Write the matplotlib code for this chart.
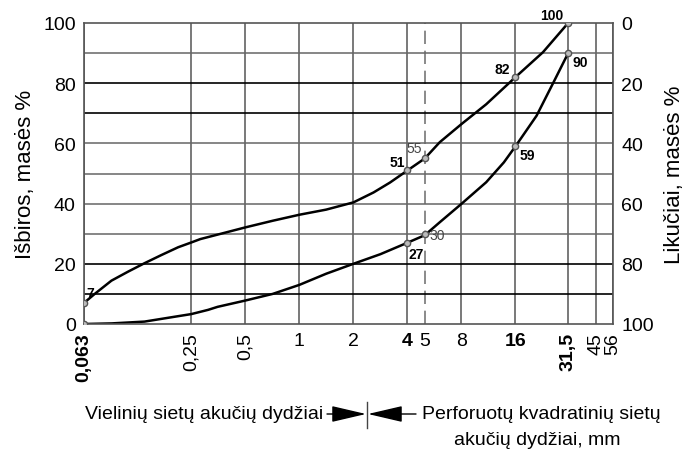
import matplotlib.pyplot as plt
import matplotlib as mpl

mpl.rcParams['font.family'] = ['Liberation Sans Narrow', 'Liberation Sans', 'DejaVu Sans']

# sieve sizes (mm) and grading curves
sieves = [0.063, 0.25, 0.5, 1, 2, 4, 5, 8, 16, 31.5, 45, 56]
sieve_labels = ['0,063', '0,25', '0,5', '1', '2', '4', '5', '8', '16', '31,5', '45', '56']

upper_x = [0.063, 0.0723, 0.0896, 0.111, 0.137, 0.17, 0.211, 0.25, 0.28, 0.35, 0.5, 0.71, 1,
           1.41, 2, 2.59, 3.2, 4, 5, 6.06, 8, 11.0, 16, 22.8, 31.5]
upper_y = [7, 10, 14.4, 17.4, 20.2, 22.9, 25.5, 27.1, 28.2, 29.7, 32.1, 34.3, 36.3,
           38, 40.4, 43.7, 47, 51, 55, 60.4, 66.4, 73, 82, 90.3, 100]

lower_x = [0.063, 0.09, 0.137, 0.211, 0.25, 0.31, 0.35, 0.5, 0.71, 1, 1.41, 2, 2.83,
           4, 5, 6.06, 8, 11.0, 13.8, 16, 21.0, 26.1, 31.5]
lower_y = [0, 0.2, 0.8, 2.6, 3.3, 4.7, 5.7, 7.8, 10, 13, 16.7, 20, 23.2,
           27, 29.5, 33.8, 39.9, 47.1, 53.7, 59, 69.2, 80.3, 90]

# marked points and their labels
pts_x = [0.063, 0.063, 4, 5, 4, 5, 16, 16, 31.5, 31.5]
pts_y = [7, 0, 51, 55, 27, 30, 82, 59, 100, 90]

fig = plt.figure(figsize=(6.88, 4.52), dpi=100)
ax = fig.add_axes([84 / 688, 1 - 325 / 452, 529 / 688, 301 / 452])
ax.set_xscale('log')
ax.set_xlim(0.063, 56)
ax.set_ylim(0, 100)

grid_c = '#555555'
for s in sieves:
    if s == 5:
        ax.axvline(s, color='#777777', lw=1.2, ls=(0, (8, 4)))
    else:
        ax.axvline(s, color=grid_c, lw=1.1)
for v in range(10, 100, 10):
    if v in (10, 20, 70, 80):
        ax.axhline(v, color='black', lw=1.2)
    else:
        ax.axhline(v, color='#666666', lw=1.1)
for sp in ax.spines.values():
    sp.set_color(grid_c)
    sp.set_linewidth(1.2)

ax.plot(upper_x, upper_y, color='black', lw=1.8, solid_joinstyle='round')
ax.plot(lower_x, lower_y, color='black', lw=1.8, solid_joinstyle='round')
ax.plot(pts_x, pts_y, 'o', ms=4.5, mfc='#bbbbbb', mec='#555555', mew=1, zorder=5)

b = dict(fontsize=10, fontweight='bold')
n = dict(fontsize=10, color='#444444')
ax.annotate('7', (0.063, 7), xytext=(2, 4), textcoords='offset points', **b)
ax.annotate('51', (4, 51), xytext=(-13, 3), textcoords='offset points', **b)
ax.annotate('55', (5, 55), xytext=(-13, 5), textcoords='offset points', **n)
ax.annotate('27', (4, 27), xytext=(1, -11), textcoords='offset points', **b)
ax.annotate('30', (5, 30), xytext=(3, -4), textcoords='offset points', **n)
ax.annotate('82', (16, 82), xytext=(-15, 3), textcoords='offset points', **b)
ax.annotate('59', (16, 59), xytext=(3, -9), textcoords='offset points', **b)
ax.annotate('100', (31.5, 100), xytext=(-20, 3), textcoords='offset points', **b)
ax.annotate('90', (31.5, 90), xytext=(3, -9), textcoords='offset points', **b)

ax.set_xticks(sieves)
ax.set_xticklabels(sieve_labels)
ax.minorticks_off()
ax.tick_params(axis='both', length=0, labelsize=14, pad=6)
for lab, txt in zip(ax.get_xticklabels(), sieve_labels):
    if txt in ('0,063', '0,25', '0,5', '31,5', '45', '56'):
        lab.set_rotation(90)
    if txt in ('0,063', '4', '16', '31,5'):
        lab.set_fontweight('bold')

ax.set_yticks(range(0, 101, 20))
ax.set_ylabel('Išbiros, masės %', fontsize=16, labelpad=5)

ax2 = ax.twinx()
ax2.set_ylim(100, 0)
ax2.set_yticks(range(0, 101, 20))
ax2.tick_params(length=0, labelsize=14, pad=6)
for sp in ax2.spines.values():
    sp.set_visible(False)
ax2.set_ylabel('Likučiai, masės %', fontsize=16, labelpad=7)

# bottom captions with arrows
ty = 37
fig.text(85 / 688, ty / 452, 'Vielinių sietų akučių dydžiai', fontsize=14, va='center', ha='left')
fig.text(422 / 688, ty / 452, 'Perforuotų kvadratinių sietų', fontsize=14, va='center', ha='left')
fig.text(537 / 688, 11 / 452, 'akučių dydžiai, mm', fontsize=14, va='center', ha='center')
arrow = dict(arrowstyle='-|>,head_length=1.2,head_width=0.28', color='black', lw=1,
             shrinkA=0, shrinkB=0, mutation_scale=18)
ax.annotate('', xy=(366, ty), xycoords='figure pixels', xytext=(327, ty),
            textcoords='figure pixels', arrowprops=arrow, annotation_clip=False)
ax.annotate('', xy=(368, ty), xycoords='figure pixels', xytext=(416, ty),
            textcoords='figure pixels', arrowprops=arrow, annotation_clip=False)
fig.add_artist(mpl.lines.Line2D([367 / 688, 367 / 688], [23 / 452, 49 / 452], color='#444444',
                                lw=1, transform=fig.transFigure))

fig.savefig('out.png', dpi=100)
